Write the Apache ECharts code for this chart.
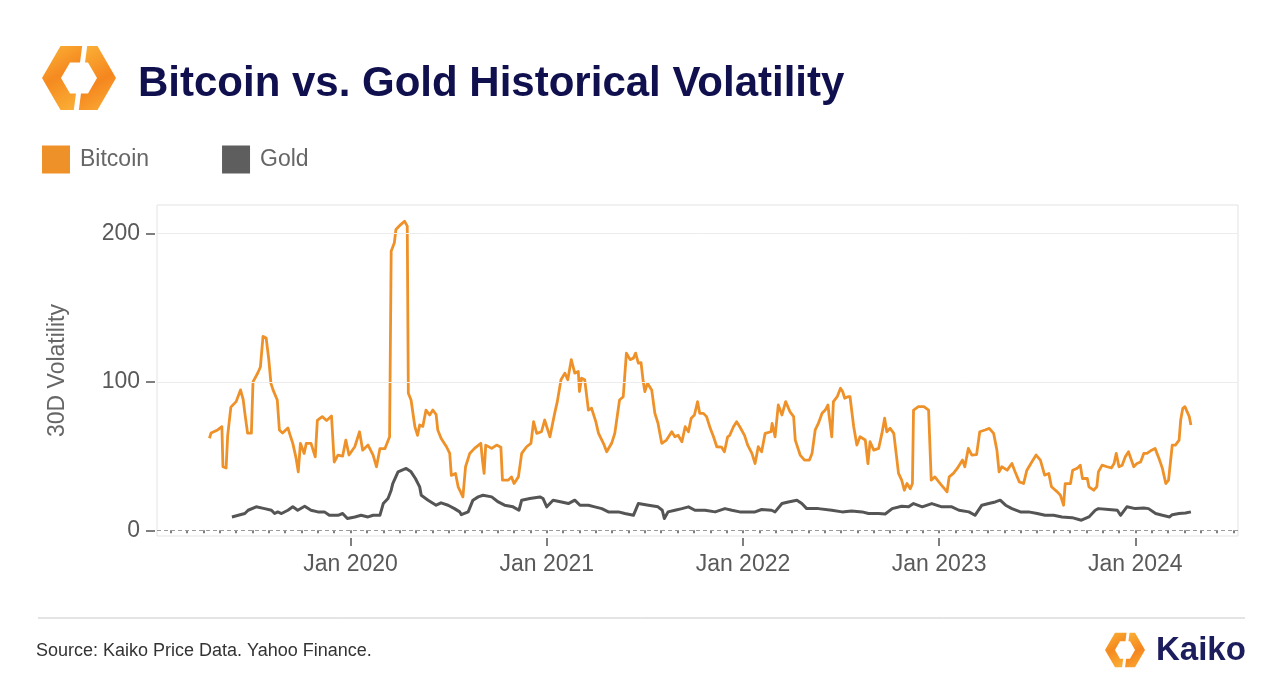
<!DOCTYPE html>
<html>
<head>
<meta charset="utf-8">
<script src="https://cdn.jsdelivr.net/npm/echarts@6/dist/echarts.min.js"></script>
<style>
html,body{margin:0;padding:0;background:#fff;}
#chart{width:1286px;height:688px;}
</style>
</head>
<body>
<div id="chart"></div>
<script>
// ---- Data ----
const btcDates = [
"2019-04-12","2019-04-15","2019-04-27","2019-05-05","2019-05-07","2019-05-13","2019-05-16","2019-05-22","2019-06-01","2019-06-09",
"2019-06-14","2019-06-17","2019-06-22","2019-06-29","2019-07-02","2019-07-11","2019-07-16","2019-07-21","2019-07-27","2019-08-01",
"2019-08-05","2019-08-09","2019-08-17","2019-08-21","2019-08-27","2019-09-06","2019-09-11","2019-09-15","2019-09-21","2019-09-25",
"2019-09-29","2019-10-06","2019-10-10","2019-10-19","2019-10-27","2019-10-31","2019-11-09","2019-11-17","2019-11-26","2019-12-01",
"2019-12-08","2019-12-17","2019-12-23","2019-12-29","2020-01-09","2020-01-18","2020-01-24","2020-02-03","2020-02-12","2020-02-18",
"2020-02-24","2020-03-04","2020-03-13","2020-03-16","2020-03-22","2020-03-25","2020-04-03","2020-04-10","2020-04-15","2020-04-17",
"2020-04-22","2020-04-29","2020-05-04","2020-05-08","2020-05-14","2020-05-20","2020-05-27","2020-06-02","2020-06-08","2020-06-11",
"2020-06-17","2020-06-27","2020-07-03","2020-07-06","2020-07-14","2020-07-19","2020-07-28","2020-08-02","2020-08-10","2020-08-19",
"2020-08-31","2020-09-03","2020-09-06","2020-09-09","2020-09-20","2020-09-29","2020-10-07","2020-10-10","2020-10-21","2020-10-27",
"2020-11-01","2020-11-09","2020-11-15","2020-11-24","2020-12-02","2020-12-07","2020-12-13","2020-12-22","2020-12-28","2021-01-07",
"2021-01-16","2021-01-21","2021-01-28","2021-02-04","2021-02-09","2021-02-15","2021-02-21","2021-02-27","2021-03-01","2021-03-05",
"2021-03-11","2021-03-18","2021-03-24","2021-04-01","2021-04-06","2021-04-15","2021-04-21","2021-04-30","2021-05-06","2021-05-15",
"2021-05-22","2021-05-28","2021-06-04","2021-06-10","2021-06-14","2021-06-19","2021-06-24","2021-06-28","2021-07-01","2021-07-06",
"2021-07-14","2021-07-20","2021-07-26","2021-08-02","2021-08-11","2021-08-21","2021-08-27","2021-09-02","2021-09-09","2021-09-15",
"2021-09-21","2021-09-26","2021-10-02","2021-10-08","2021-10-12","2021-10-19","2021-10-25","2021-11-01","2021-11-07","2021-11-13",
"2021-11-22","2021-11-27","2021-12-03","2021-12-07","2021-12-14","2021-12-20","2021-12-26","2022-01-04","2022-01-10","2022-01-18",
"2022-01-24","2022-01-30","2022-02-05","2022-02-11","2022-02-21","2022-02-23","2022-02-28","2022-03-06","2022-03-13","2022-03-20",
"2022-03-28","2022-04-04","2022-04-07","2022-04-16","2022-04-24","2022-05-03","2022-05-08","2022-05-14","2022-05-20","2022-05-27",
"2022-06-02","2022-06-07","2022-06-09","2022-06-14","2022-06-17","2022-06-24","2022-06-30","2022-07-04","2022-07-08","2022-07-14",
"2022-07-18","2022-07-25","2022-07-31","2022-08-06","2022-08-16","2022-08-21","2022-08-25","2022-09-01","2022-09-10","2022-09-16",
"2022-09-21","2022-09-25","2022-10-01","2022-10-08","2022-10-17","2022-10-23","2022-10-28","2022-11-02","2022-11-08","2022-11-12",
"2022-11-14","2022-11-23","2022-12-03","2022-12-12","2022-12-17","2022-12-24","2023-01-03","2023-01-11","2023-01-16","2023-01-20",
"2023-01-28","2023-02-04","2023-02-13","2023-02-17","2023-02-23","2023-03-01","2023-03-10","2023-03-16","2023-03-26","2023-04-03",
"2023-04-11","2023-04-17","2023-04-21","2023-04-26","2023-05-06","2023-05-15","2023-05-21","2023-05-29","2023-06-06","2023-06-12",
"2023-06-21","2023-06-29","2023-07-07","2023-07-15","2023-07-23","2023-07-28","2023-08-08","2023-08-14","2023-08-20","2023-08-23",
"2023-09-02","2023-09-06","2023-09-14","2023-09-20","2023-09-24","2023-10-03","2023-10-06","2023-10-15","2023-10-21","2023-10-24",
"2023-10-31","2023-11-09","2023-11-17","2023-11-22","2023-11-26","2023-12-01","2023-12-07","2023-12-13","2023-12-19","2023-12-29",
"2024-01-04","2024-01-11","2024-01-17","2024-01-23","2024-02-01","2024-02-07","2024-02-14","2024-02-20","2024-02-26","2024-03-02",
"2024-03-09","2024-03-15","2024-03-22","2024-03-25","2024-03-29","2024-04-02","2024-04-06","2024-04-10","2024-04-13"
];
const btcValues = [
62,65.5,67.6,69.8,42.8,42,64,83,86.7,94.6,
88,79,65.5,65.5,100,106,110,130.6,129.5,114.9,
99,94.6,87.8,67.6,65.5,69,63,58.6,48.6,39.4,
58.6,51.8,58.6,58.6,49.5,74,76.6,74,77,46,
50.7,50,60.8,50.7,56.3,66.4,54,57.4,50.7,42.8,
55,55,63,188,193.7,202.7,206,208.3,205,92.3,
87.8,69.8,64,71,70,81,77.7,81,78,67.6,
62,56.3,51.8,37,38.3,29.3,22.5,42.8,51.8,55.2,
58.6,47.3,38.3,57.4,55.2,57.4,56,33.8,33.8,36,
31.5,36,51.8,56.3,58.6,73.2,65.3,66.4,74.3,63,
78.8,86.7,101.4,105.9,101.4,115,105.9,107,93.5,102.5,
101.4,81,82.2,73.2,65.3,58.6,52.9,58.6,65.3,87.8,
90,119.4,115,116,119.4,112.6,113,100.2,93.5,99,
94.6,78.8,72,58.6,60.8,66.4,63,64,59.7,69.8,
66.4,75.5,77.7,86.7,78.8,78.8,76.6,68.7,63,56.3,
56,52.9,63,64,69.8,73.2,69.8,64,57.4,51.8,
45,56.3,52.9,65.3,66.4,72,63,84.5,77.7,86.7,
80,76.6,60.8,50.7,47.3,47.3,51.8,67.6,72,78.8,
81,84.5,77.7,63,86.7,90,95.7,93.5,89,90,
90,69.8,57.4,63,60.8,45,59.7,54,55.2,65.3,
75.5,66.4,68.7,65.3,38.3,33.8,27,31.5,28,31.5,
81,83.3,83.3,81,33.8,36,31.5,28,25.9,36,
38.3,41.7,47.3,42.8,55.2,50.7,51,66.4,67.6,68.7,
65.3,54,39.4,42.8,40.5,45,39.4,32.6,31.5,40.5,
46,50.7,47.3,37.2,38.3,29.3,25.9,23.6,16.9,31.5,
31.5,40.5,41.7,43.9,34.9,34.9,29.3,27,29.3,39.4,
43.9,42.8,42,45,51.8,42.8,43.9,49.5,52.9,42.8,
45,46,51.8,51.8,54,55.2,48.4,41.7,31.5,33.8,
57.4,57.4,60.8,74.3,82.2,83.3,80,76.6,71
];
const goldDates = [
"2019-05-24","2019-06-05","2019-06-17","2019-06-23","2019-07-08","2019-07-24","2019-08-06","2019-08-12","2019-08-18","2019-08-25",
"2019-09-06","2019-09-15","2019-09-24","2019-10-07","2019-10-19","2019-11-01","2019-11-13","2019-11-22","2019-12-08","2019-12-17",
"2019-12-26","2020-01-09","2020-01-21","2020-02-03","2020-02-12","2020-02-24","2020-03-01","2020-03-10","2020-03-16","2020-03-19",
"2020-03-29","2020-04-13","2020-04-22","2020-04-30","2020-05-08","2020-05-11","2020-05-24","2020-06-08","2020-06-17","2020-06-30",
"2020-07-12","2020-07-22","2020-07-25","2020-08-07","2020-08-16","2020-08-26","2020-09-04","2020-09-20","2020-10-02","2020-10-14",
"2020-10-30","2020-11-10","2020-11-15","2020-11-30","2020-12-19","2020-12-25","2021-01-01","2021-01-13","2021-01-29","2021-02-10",
"2021-02-21","2021-03-02","2021-03-18","2021-03-30","2021-04-12","2021-04-24","2021-05-13","2021-05-25","2021-06-10","2021-06-19",
"2021-07-08","2021-07-26","2021-08-03","2021-08-07","2021-08-14","2021-08-27","2021-09-09","2021-09-21","2021-10-03","2021-10-22",
"2021-11-10","2021-11-28","2021-12-11","2021-12-26","2022-01-11","2022-01-24","2022-02-05","2022-02-22","2022-02-28","2022-03-13",
"2022-03-25","2022-04-10","2022-04-19","2022-04-28","2022-05-20","2022-06-14","2022-07-03","2022-07-21","2022-08-10","2022-08-22",
"2022-09-10","2022-09-22","2022-10-05","2022-10-23","2022-11-05","2022-11-14","2022-11-30","2022-12-18","2023-01-06","2023-01-25",
"2023-02-07","2023-02-24","2023-03-07","2023-03-20","2023-04-02","2023-04-14","2023-04-23","2023-05-03","2023-05-15","2023-05-31",
"2023-06-15","2023-07-01","2023-07-16","2023-08-01","2023-08-17","2023-09-05","2023-09-22","2023-10-06","2023-10-18","2023-10-24",
"2023-11-12","2023-11-28","2023-12-04","2023-12-16","2024-01-01","2024-01-17","2024-01-26","2024-02-08","2024-02-20","2024-03-04",
"2024-03-09","2024-03-22","2024-04-03","2024-04-13"
];
const goldValues = [
9,10.1,11.3,13.5,15.8,14.6,13.5,11.3,12.4,11.3,
13.5,15.8,13.5,16.2,13.5,12.4,12.4,10.1,10.1,11.3,
7.9,9,10.1,9,10.1,10.1,18,21.4,27,31.5,
39.4,41.7,39.4,34.9,29.3,23.6,20.3,16.9,18.5,16.9,
14.6,12.4,10.5,12.4,20.3,22.5,23.6,22.5,19.1,16.9,
15.8,13.5,20.3,21.4,22.5,21.4,15.8,20.3,19.1,18,
20.3,16.9,16.9,15.8,14.6,12.4,12.4,11.3,10.1,18,
16.9,15.8,13.5,7.9,12.4,13.5,14.6,15.8,13.5,13.5,
12.4,14.6,13.5,12.4,12.4,12.4,14,13.5,12.4,18,
19.1,20.3,18,14.6,14.6,13.5,12.4,13,12.4,11.3,
11.3,11,14.6,16.2,15.8,18,15.8,18,15.8,15.8,
13.5,12.4,10.1,16.9,18,19.1,20.3,16.9,14.6,12.4,
12.4,11.3,10.1,10.1,9,8.5,6.8,9,13.5,14.6,
14,13.5,10.1,15.8,14.6,15,14.6,11.3,10.1,9,
10.5,11.3,11.6,12.4
];
const yTickValues = [0, 100, 200];
const xLabelYears = [2020, 2021, 2022, 2023, 2024];
const seriesNames = ["Bitcoin", "Gold"];

// ---- helpers ----
function monthsSince2019(s) {
  const p = s.split('-').map(Number);
  const dim = new Date(Date.UTC(p[0], p[1], 0)).getUTCDate();
  return (p[0] - 2019) * 12 + (p[1] - 1) + (p[2] - 1) / dim;
}
const toPairs = (dates, vals) => dates.map((d, i) => [monthsSince2019(d), vals[i]]);
const minorTicks = [];
for (let m = 1; m <= 66; m++) minorTicks.push(m);
const majorTicks = xLabelYears.map(y => (y - 2019) * 12);

function hexLogo(cx, cy, R, r, a, b, g) {
  const H = R * 0.866, h = r * 0.866;
  const cut = y => cx + a - b * (y - cy);
  const left = [[cut(cy-H)-g, cy-H],[cx-R/2, cy-H],[cx-R, cy],[cx-R/2, cy+H],[cut(cy+H)-g, cy+H],
                [cut(cy+h)-g, cy+h],[cx-r/2, cy+h],[cx-r, cy],[cx-r/2, cy-h],[cut(cy-h)-g, cy-h]];
  const right = [[cut(cy-H)+g, cy-H],[cx+R/2, cy-H],[cx+R, cy],[cx+R/2, cy+H],[cut(cy+H)+g, cy+H],
                 [cut(cy+h)+g, cy+h],[cx+r/2, cy+h],[cx+r, cy],[cx+r/2, cy-h],[cut(cy-h)+g, cy-h]];
  return [
    {type:'polygon', shape:{points:left}, style:{fill:new echarts.graphic.LinearGradient(0,0,1,1,[{offset:0,color:'#fbb438'},{offset:0.45,color:'#f58a20'},{offset:1,color:'#fbb438'}])}},
    {type:'polygon', shape:{points:right}, style:{fill:new echarts.graphic.LinearGradient(0,0,1,1,[{offset:0,color:'#fbb438'},{offset:0.55,color:'#f5861f'},{offset:1,color:'#fbae35'}])}}
  ];
}

const chart = echarts.init(document.getElementById('chart'), null, {renderer:'canvas'});
const FONT = '"Liberation Sans", Arial, Helvetica, sans-serif';
const xMin = 0.16, xMax = 66.28;

const option = {
  backgroundColor: '#ffffff',
  animation: false,
  textStyle: {fontFamily: FONT},
  grid: {left:157, right:48, top:205, bottom:152, show:true, borderColor:'#e3e3e3', borderWidth:1, backgroundColor:'transparent'},
  legend: {
    data: seriesNames, left: 42, top: 145.5, padding: 0, icon: 'rect', itemWidth: 28, itemHeight: 28, itemGap: 73,
    textStyle: {fontSize: 23, color: '#666666', fontFamily: FONT, padding: [0,0,0,5]},
    selectedMode: false
  },
  xAxis: [
    {
      type:'value', min:xMin, max:xMax, position:'bottom', offset:2,
      axisLine:{show:false}, splitLine:{show:false},
      axisTick:{show:true, customValues:minorTicks, length:3, lineStyle:{color:'#555555', width:1.5}},
      axisLabel:{show:true, customValues:majorTicks, fontSize:23, color:'#595959', margin:15, fontFamily:FONT,
        formatter: v => 'Jan ' + (2019 + Math.round(v / 12))}
    },
    {
      type:'value', min:xMin, max:xMax, position:'bottom', offset:2,
      axisLine:{show:false}, splitLine:{show:false}, axisLabel:{show:false},
      axisTick:{show:true, customValues:majorTicks, length:8, lineStyle:{color:'#555555', width:1.5}}
    }
  ],
  yAxis: {
    type:'value', min:-3.85, max:219.2, offset:2,
    name:'30D Volatility', nameLocation:'middle', nameGap:86,
    nameTextStyle:{fontSize:23, color:'#666666', fontFamily:FONT},
    axisLine:{show:false}, splitLine:{show:false},
    axisTick:{show:true, customValues:yTickValues, length:9, lineStyle:{color:'#555555', width:1.5}},
    axisLabel:{show:true, customValues:yTickValues, fontSize:23, color:'#595959', margin:15, fontFamily:FONT}
  },
  series: [
    {
      name:'Bitcoin', type:'line', xAxisIndex:0, yAxisIndex:0, z:3,
      data: toPairs(btcDates, btcValues), showSymbol:false, symbol:'none',
      lineStyle:{color:'#ef9129', width:2.8, join:'round'}, itemStyle:{color:'#ef9129'}
    },
    {
      name:'Gold', type:'line', xAxisIndex:0, yAxisIndex:0, z:2,
      data: toPairs(goldDates, goldValues), showSymbol:false, symbol:'none',
      lineStyle:{color:'#555555', width:3, join:'round'}, itemStyle:{color:'#5e5e5e'},
      markLine:{
        silent:true, symbol:'none', label:{show:false}, animation:false,
        data:[
          {yAxis:100, lineStyle:{color:'#ececec', type:'solid', width:1}},
          {yAxis:200, lineStyle:{color:'#ececec', type:'solid', width:1}},
          {yAxis:0, lineStyle:{color:'#9a9a9a', type:[4,3], width:1}}
        ]
      }
    }
  ],
  graphic: [
    ...hexLogo(79, 78, 37, 18, 1.5, 0.13, 2.5),
    {type:'text', x:138, y:84, style:{text:'Bitcoin vs. Gold Historical Volatility', fill:'#10104f', font:'700 42px ' + FONT, verticalAlign:'middle', align:'left'}},
    {type:'line', shape:{x1:38, y1:618, x2:1245, y2:618}, style:{stroke:'#c9c9c9', lineWidth:1}},
    {type:'text', x:36, y:651, style:{text:'Source: Kaiko Price Data. Yahoo Finance.', fill:'#333333', font:'18px ' + FONT, verticalAlign:'middle', align:'left'}},
    ...hexLogo(1125, 650, 20, 10, 0.8, 0.13, 1.5),
    {type:'text', x:1156, y:651, style:{text:'Kaiko', fill:'#1c1d5c', font:'700 33px ' + FONT, verticalAlign:'middle', align:'left'}}
  ]
};
chart.setOption(option);
</script>
</body>
</html>
